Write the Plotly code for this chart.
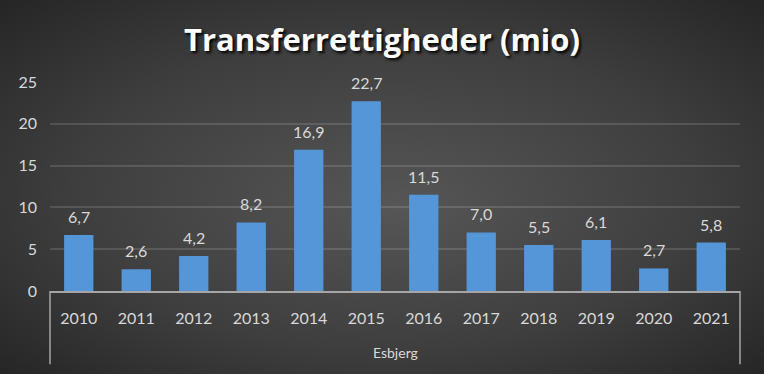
import base64
import plotly.graph_objects as go

years = ["2010", "2011", "2012", "2013", "2014", "2015", "2016", "2017", "2018", "2019", "2020", "2021"]
values = [6.7, 2.6, 4.2, 8.2, 16.9, 22.7, 11.5, 7.0, 5.5, 6.1, 2.7, 5.8]
group_label = "Esbjerg"
title = "Transferrettigheder (mio)"
y_ticks = [0, 5, 10, 15, 20, 25]

FONT = "Lato"
TXT = "#d9d9d9"

svg = """<svg xmlns='http://www.w3.org/2000/svg' width='764' height='374'>
<defs><radialGradient id='g' cx='50%' cy='50%' r='75%' fx='52%' fy='55%'>
<stop offset='0' stop-color='#565656'/><stop offset='0.55' stop-color='#3e3e3e'/><stop offset='1' stop-color='#222222'/>
</radialGradient></defs><rect width='764' height='374' fill='url(#g)'/></svg>"""
bg = "data:image/svg+xml;base64," + base64.b64encode(svg.encode()).decode()

fig = go.Figure()
fig.add_trace(go.Bar(
    x=years, y=values,
    marker=dict(color="#5596d8", line=dict(width=0)),
    hoverinfo="skip",
))

for i, v in enumerate(values):
    fig.add_annotation(
        x=i, y=v, text=f"{v:.1f}".replace(".", ","),
        showarrow=False, yanchor="bottom", yshift=7,
        font=dict(family=FONT, size=16, color=TXT),
    )

fig.add_annotation(
    x=0.5, xref="paper", y=-0.295, yref="paper", text=group_label,
    showarrow=False, yanchor="middle",
    font=dict(family=FONT, size=14, color=TXT),
)

line_col = "#a6a6a6"
for xp in [0, 1]:
    fig.add_shape(type="line", xref="paper", yref="paper",
                  x0=xp, x1=xp, y0=0, y1=-0.35,
                  line=dict(color=line_col, width=1.5))

fig.update_layout(
    width=764, height=374,
    margin=dict(l=50, r=24, t=82, b=83),
    paper_bgcolor="#333333",
    plot_bgcolor="rgba(0,0,0,0)",
    images=[dict(source=bg, xref="paper", yref="paper", x=-50/690, y=1+82/209,
                 sizex=764/690, sizey=374/209, xanchor="left", yanchor="top",
                 sizing="stretch", layer="below")],
    title=dict(text=f"<b>{title}</b>", x=0.5, xref="container", xanchor="center",
               y=1 - 40/374, yanchor="middle", yref="container",
               font=dict(family="Open Sans", size=31, color="#ffffff",
                         shadow="2px 2px 3px #000000")),
    bargap=0.49,
    showlegend=False,
    xaxis=dict(type="category", showgrid=False, showline=True,
               linecolor=line_col, linewidth=1.5, ticks="",
               tickfont=dict(family=FONT, size=16, color=TXT),
               ticklabelstandoff=12, range=[-0.5, 11.5]),
    yaxis=dict(range=[0, 25], tickvals=y_ticks, showgrid=True,
               gridcolor="rgba(255,255,255,0.13)", gridwidth=1.5,
               zeroline=False, showline=False, ticks="",
               tickfont=dict(family=FONT, size=16, color=TXT),
               ticklabelstandoff=12),
)

fig.write_html("out.html", config={"displayModeBar": False},
               post_script="document.body.style.margin='0';document.body.style.background='#222';")
